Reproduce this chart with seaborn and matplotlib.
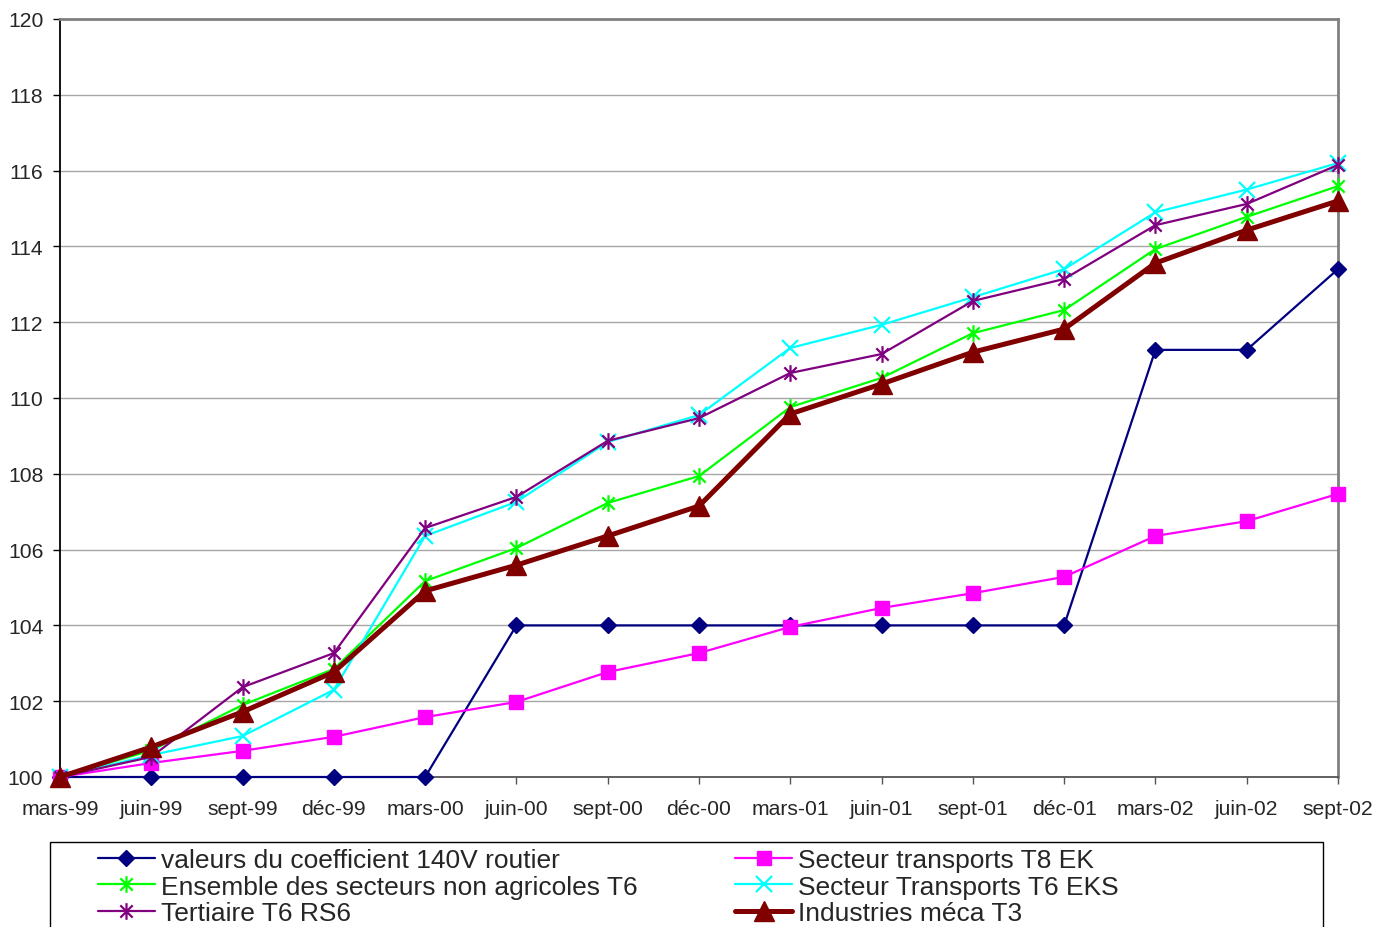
import matplotlib
matplotlib.use("Agg")
import matplotlib.pyplot as plt
from matplotlib.path import Path
from matplotlib.patches import Rectangle
import seaborn as sns
import pandas as pd
import numpy as np

categories = ["mars-99", "juin-99", "sept-99", "déc-99", "mars-00", "juin-00", "sept-00",
              "déc-00", "mars-01", "juin-01", "sept-01", "déc-01", "mars-02", "juin-02", "sept-02"]

coef_140v = [100, 100, 100, 100, 100, 104, 104, 104, 104, 104, 104, 104, 111.27, 111.27, 113.4]
t8_ek = [100, 100.37, 100.69, 101.06, 101.58, 101.98, 102.77, 103.27, 103.96, 104.46, 104.85,
         105.28, 106.36, 106.75, 107.47]
t6_ens = [100, 100.7, 101.9, 102.85, 105.17, 106.04, 107.23, 107.94, 109.76, 110.53, 111.71,
          112.32, 113.93, 114.78, 115.59]
t6_eks = [100, 100.58, 101.08, 102.3, 106.36, 107.26, 108.84, 109.55, 111.32, 111.93, 112.66,
          113.4, 114.9, 115.5, 116.2]
t6_rs6 = [100, 100.53, 102.37, 103.27, 106.57, 107.39, 108.87, 109.47, 110.66, 111.16, 112.56,
          113.14, 114.56, 115.12, 116.15]
t3_meca = [100, 100.79, 101.72, 102.77, 104.91, 105.59, 106.36, 107.15, 109.58, 110.37, 111.21,
           111.82, 113.56, 114.43, 115.2]

labels = ["valeurs du coefficient 140V routier", "Secteur transports T8 EK",
          "Ensemble des secteurs non agricoles T6", "Secteur Transports T6 EKS",
          "Tertiaire T6 RS6", "Industries méca T3"]

sns.set_style("white")
plt.rcParams["font.family"] = ["Liberation Sans", "DejaVu Sans"]

star = Path([(-1, -1), (1, 1), (-1, 1), (1, -1), (0, -1.35), (0, 1.35)],
            [Path.MOVETO, Path.LINETO, Path.MOVETO, Path.LINETO, Path.MOVETO, Path.LINETO])

fig = plt.figure(figsize=(13.78, 9.28), dpi=100)
ax = fig.add_axes([60/1378, 1-778/928, (1338-60)/1378, (778-20)/928])

x = np.arange(len(categories))
series = [
    (coef_140v, dict(color="#000080", marker="D", ms=8.5, lw=1.6, mec="#000080", mfc="#000080", mew=1)),
    (t8_ek, dict(color="#FF00FF", marker="s", ms=9.5, lw=1.6, mec="#FF00FF", mfc="#FF00FF", mew=1)),
    (t6_ens, dict(color="#00FF00", marker=star, ms=12, lw=1.6, mec="#00FF00", mfc="none", mew=1.6)),
    (t6_eks, dict(color="#00FFFF", marker="x", ms=11, lw=1.6, mec="#00FFFF", mew=1.6)),
    (t6_rs6, dict(color="#800080", marker=star, ms=12, lw=1.6, mec="#800080", mfc="none", mew=1.6)),
    (t3_meca, dict(color="#800000", marker="^", ms=14, lw=3.6, mec="#800000", mfc="#800000", mew=1)),
]
handles = []
for (vals, st), lab in zip(series, labels):
    df = pd.DataFrame({"x": x, "y": vals})
    sns.lineplot(data=df, x="x", y="y", ax=ax, errorbar=None, label=lab, clip_on=False,
                 zorder=3, **st)
    handles.append(ax.lines[-1])
if ax.get_legend():
    ax.get_legend().remove()

ax.set_xlim(0, 14)
ax.set_ylim(100, 120)
ax.set_yticks(np.arange(100, 121, 2))
ax.set_xticks(x)
ax.set_xticklabels(categories)
ax.set_xlabel("")
ax.set_ylabel("")
ax.grid(axis="y", color="#A6A6A6", lw=1)
ax.grid(axis="x", visible=False)
ax.set_axisbelow(True)

ax.spines["left"].set_color("black")
ax.spines["left"].set_linewidth(1.3)
ax.spines["bottom"].set_color("#555555")
ax.spines["bottom"].set_linewidth(1.3)
for s in ["top", "right"]:
    ax.spines[s].set_color("#808080")
    ax.spines[s].set_linewidth(2)
    ax.spines[s].set_visible(True)

ax.tick_params(axis="y", direction="out", length=5, width=1, color="black", pad=7, labelsize=15.2,
               left=True)
ax.tick_params(axis="x", direction="out", length=5, width=1, color="#555555", pad=10.5, labelsize=15.2,
               bottom=True)

# legend frame
fig.patches.append(Rectangle((50/1378, 1-1000/928), (1323-50)/1378, (1000-843)/928,
                             transform=fig.transFigure, fill=False, edgecolor="black", lw=1))
order = [0, 2, 4, 1, 3, 5]
leg = fig.legend([handles[i] for i in order], [labels[i] for i in order],
                 loc="upper left", bbox_to_anchor=(98/1378, 1-849/928), ncol=2,
                 frameon=False, fontsize=19, handlelength=2.15, handletextpad=0.22,
                 labelspacing=0.1, columnspacing=3.72, borderpad=0, borderaxespad=0)

fig.savefig("out.png", dpi=100)
